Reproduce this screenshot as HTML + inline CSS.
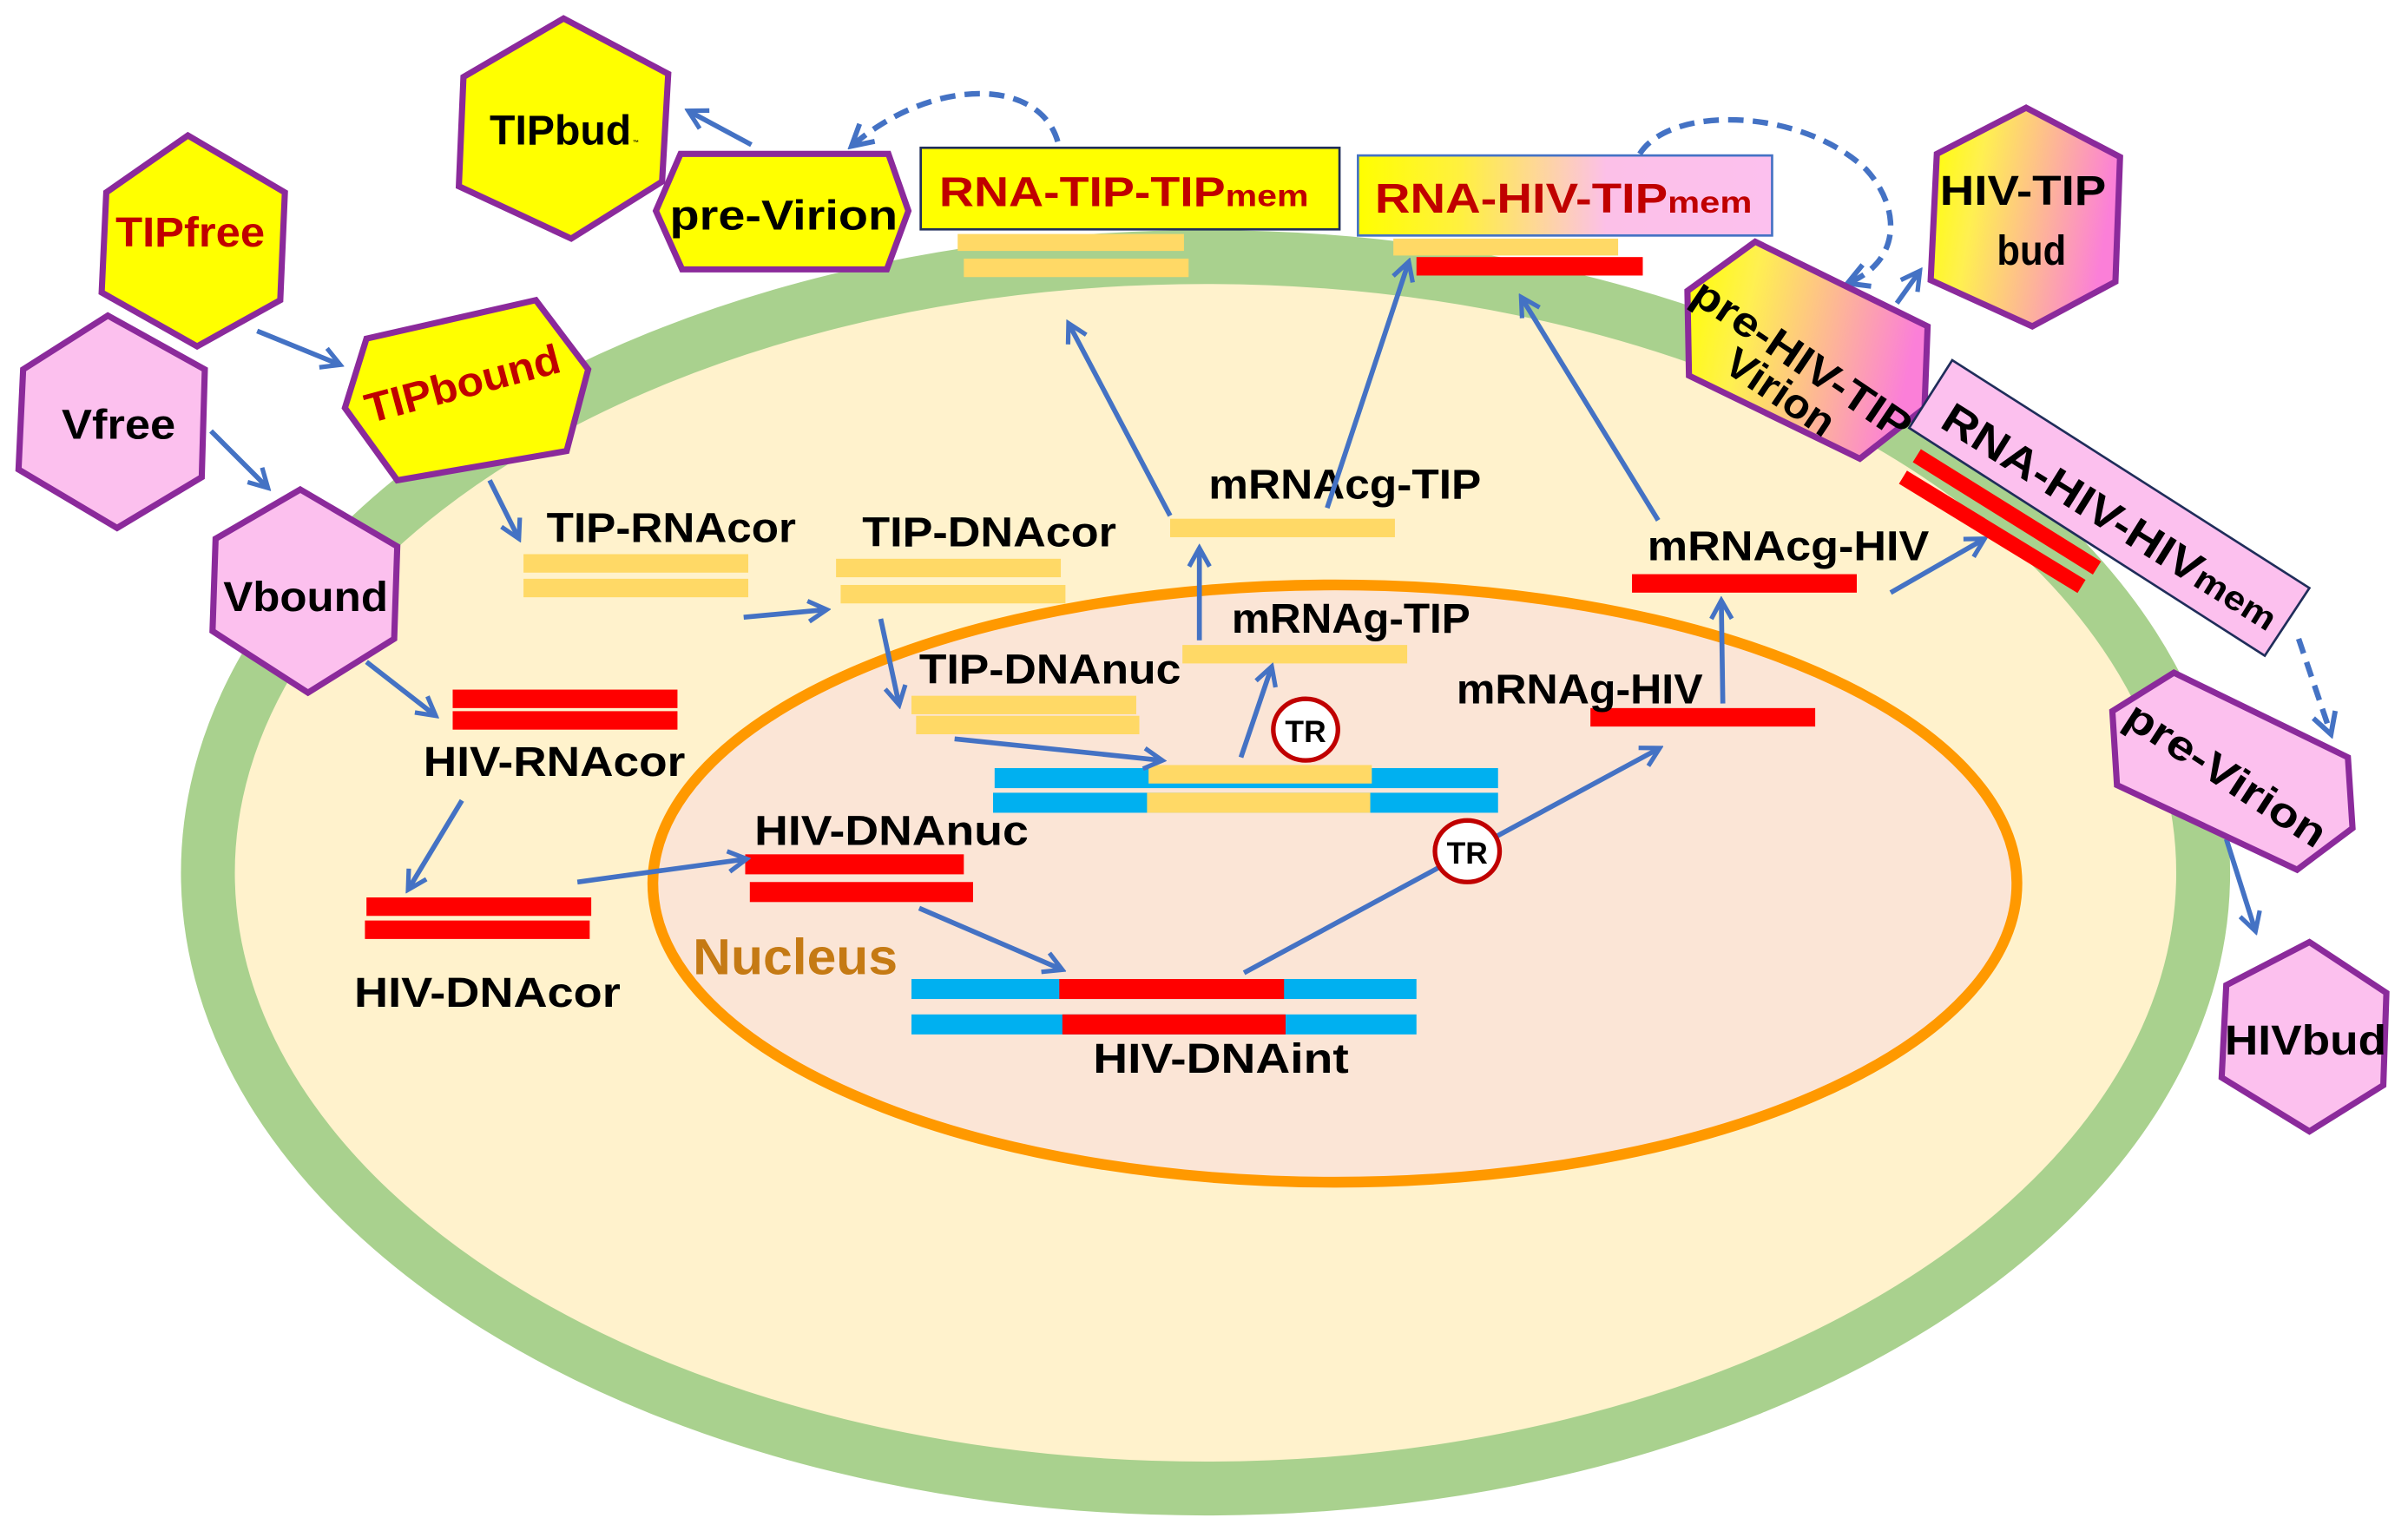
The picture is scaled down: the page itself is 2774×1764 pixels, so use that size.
<!DOCTYPE html>
<html><head><meta charset="utf-8"><style>
html,body{margin:0;padding:0;background:#fff;}
svg{display:block;}
text{font-family:"Liberation Sans",sans-serif;font-weight:bold;}
</style></head><body>
<svg width="2774" height="1764" viewBox="0 0 1564 994.6" xmlns="http://www.w3.org/2000/svg">
<defs>
<marker id="ah" viewBox="0 0 12 12" refX="10" refY="6" markerWidth="5" markerHeight="5" orient="auto" markerUnits="strokeWidth">
<path d="M1,1 L10,6 L1,11" fill="none" stroke="#4472C4" stroke-width="2.2"/>
</marker>
<linearGradient id="yp" x1="0" y1="0" x2="1" y2="0">
<stop offset="0" stop-color="#FFFF00"/><stop offset="0.25" stop-color="#FFF040"/><stop offset="0.6" stop-color="#FCC0E8"/><stop offset="1" stop-color="#FCC0EE"/></linearGradient>
<linearGradient id="yp2" x1="0" y1="0" x2="1" y2="0.2">
<stop offset="0" stop-color="#FFFF00"/><stop offset="0.3" stop-color="#FFF050"/><stop offset="1" stop-color="#FB7FD8"/></linearGradient>
</defs>
<rect width="1564" height="994.6" fill="#fff"/>
<ellipse cx="783" cy="567" rx="648" ry="400" fill="#FFF2CC" stroke="#A9D18E" stroke-width="35"/>
<ellipse cx="867" cy="574" rx="443" ry="194" fill="#FBE5D6" stroke="#FF9900" stroke-width="7"/>
<text x="450" y="633" font-size="33" fill="#C57A14" textLength="133" lengthAdjust="spacingAndGlyphs">Nucleus</text>

<g fill="#FFD966">
<rect x="622" y="152" width="147" height="11"/><rect x="626" y="168" width="146" height="12"/>
<rect x="905" y="155" width="146" height="11"/>
<rect x="340" y="360" width="146" height="12"/><rect x="340" y="376" width="146" height="12"/>
<rect x="543" y="363" width="146" height="12"/><rect x="546" y="380" width="146" height="12"/>
<rect x="592" y="452" width="146" height="12"/><rect x="595" y="465" width="145" height="12"/>
<rect x="760" y="337" width="146" height="12"/>
<rect x="768" y="419" width="146" height="12"/>
</g>
<g fill="#FF0000">
<rect x="920" y="167" width="147" height="12"/>
<rect x="1060" y="373" width="146" height="12"/>
<rect x="1033" y="460" width="146" height="12"/>
<rect x="294" y="448" width="146" height="12"/><rect x="294" y="462" width="146" height="12"/>
<rect x="238" y="583" width="146" height="12"/><rect x="237" y="598" width="146" height="12"/>
<rect x="484" y="555" width="142" height="13"/><rect x="487" y="573" width="145" height="13"/>
</g>
<g fill="#00B0F0">
<rect x="646" y="499" width="327" height="13"/><rect x="645" y="515" width="328" height="13"/>
<rect x="592" y="636" width="328" height="13"/><rect x="592" y="659" width="328" height="13"/>
</g>
<rect x="746" y="497" width="145" height="12" fill="#FFD966"/>
<rect x="745" y="515" width="145" height="13" fill="#FFD966"/>
<rect x="688" y="636" width="146" height="13" fill="#FF0000"/>
<rect x="690" y="659" width="145" height="13" fill="#FF0000"/>

<g font-size="27" fill="#000">
<text x="355" y="352" textLength="162" lengthAdjust="spacingAndGlyphs">TIP-RNAcor</text>
<text x="560" y="355" textLength="165" lengthAdjust="spacingAndGlyphs">TIP-DNAcor</text>
<text x="597" y="444" textLength="170" lengthAdjust="spacingAndGlyphs">TIP-DNAnuc</text>
<text x="785" y="324" textLength="177" lengthAdjust="spacingAndGlyphs">mRNAcg-TIP</text>
<text x="800" y="411" textLength="155" lengthAdjust="spacingAndGlyphs">mRNAg-TIP</text>
<text x="1070" y="364" textLength="183" lengthAdjust="spacingAndGlyphs">mRNAcg-HIV</text>
<text x="946" y="457" textLength="160" lengthAdjust="spacingAndGlyphs">mRNAg-HIV</text>
<text x="275" y="504" textLength="170" lengthAdjust="spacingAndGlyphs">HIV-RNAcor</text>
<text x="230" y="654" textLength="173" lengthAdjust="spacingAndGlyphs">HIV-DNAcor</text>
<text x="490" y="549" textLength="178" lengthAdjust="spacingAndGlyphs">HIV-DNAnuc</text>
<text x="710" y="697" textLength="166" lengthAdjust="spacingAndGlyphs">HIV-DNAint</text>
</g>

<g stroke="#4472C4" stroke-width="3.2" fill="none" marker-end="url(#ah)">
<line x1="167" y1="215" x2="221" y2="237"/>
<line x1="137" y1="280" x2="174" y2="317"/>
<line x1="318" y1="312" x2="337" y2="350"/>
<line x1="238" y1="430" x2="283" y2="465"/>
<line x1="483" y1="401" x2="537" y2="396"/>
<line x1="572" y1="402" x2="584" y2="458"/>
<line x1="300" y1="520" x2="265" y2="578"/>
<line x1="375" y1="573" x2="485" y2="558"/>
<line x1="620" y1="480" x2="755" y2="494"/>
<line x1="597" y1="590" x2="690" y2="630"/>
<line x1="808" y1="632" x2="1078" y2="486"/>
<line x1="806" y1="492" x2="826" y2="433"/>
<line x1="779" y1="416" x2="779" y2="356"/>
<line x1="760" y1="335" x2="694" y2="210"/>
<line x1="862" y1="330" x2="915" y2="170"/>
<line x1="1077" y1="338" x2="988" y2="193"/>
<line x1="1119" y1="457" x2="1118" y2="390"/>
<line x1="1228" y1="385" x2="1289" y2="350"/>
<line x1="488" y1="94" x2="447" y2="72"/>
<line x1="1232" y1="197" x2="1247" y2="176"/>
<line x1="1446" y1="545" x2="1465" y2="605"/>
<path d="M687,92 C675,50 605,50 553,95" stroke-dasharray="10,6" stroke-width="3.6"/>
<path d="M1065,100 C1085,68 1170,70 1212,110 C1235,135 1235,170 1200,184" stroke-dasharray="10,6" stroke-width="3.6"/>
<line x1="1493" y1="415" x2="1514" y2="477" stroke-dasharray="10,6" stroke-width="3.6"/>
</g>

<g stroke="#C00000" stroke-width="3" fill="#fff">
<ellipse cx="848" cy="474" rx="21" ry="20"/>
<ellipse cx="953" cy="553" rx="21" ry="20"/>
</g>
<g font-size="20" fill="#000" text-anchor="middle">
<text x="848" y="482">TR</text><text x="953" y="561">TR</text>
</g>

<g stroke="#8B2A9B" stroke-width="4" stroke-linejoin="miter">
<polygon points="366,12 434,48 430,118 371,155 298,121 301,50" fill="#FFFF00"/>
<polygon points="122,88 185,125 182,195 128,225 66,190 69,125" fill="#FFFF00"/>
<polygon points="70,205 133,240 131,310 76,343 12,305 15,240" fill="#FCC0EE"/>
<polygon points="238,220 348,195 382,240 368,293 258,312 224,265" fill="#FFFF00"/>
<polygon points="195,318 258,355 256,415 200,450 138,410 140,350" fill="#FCC0EE"/>
<polygon points="442,100 577,100 590,137 576,175 443,175 426,137" fill="#FFFF00"/>
<polygon points="1316,70 1377,102 1374,183 1320,212 1254,182 1258,100" fill="url(#yp2)"/>
<polygon points="1140,157 1252,212 1250,265 1208,298 1097,244 1096,189" fill="url(#yp2)"/>
<polygon points="1412,437 1525,492 1528,538 1492,565 1375,510 1372,462" fill="#FCC0EE"/>
<polygon points="1500,612 1550,645 1548,705 1500,735 1443,700 1446,640" fill="#FCC0EE"/>
</g>
<g font-size="27" fill="#000">
<text x="318" y="94" textLength="92" lengthAdjust="spacingAndGlyphs">TIPbud</text><text x="411" y="94" font-size="4">™</text>
<text x="75" y="160" fill="#C00000" textLength="97" lengthAdjust="spacingAndGlyphs">TIPfree</text>
<text x="40" y="285" textLength="74" lengthAdjust="spacingAndGlyphs">Vfree</text>
<text x="145" y="397" textLength="107" lengthAdjust="spacingAndGlyphs">Vbound</text>
<text x="435" y="149" textLength="148" lengthAdjust="spacingAndGlyphs">pre-Virion</text>
<text x="1260" y="133" textLength="108" lengthAdjust="spacingAndGlyphs">HIV-TIP</text>
<text x="1297" y="172" textLength="45" lengthAdjust="spacingAndGlyphs">bud</text>
<text x="1445" y="685" textLength="105" lengthAdjust="spacingAndGlyphs">HIVbud</text>
<text transform="translate(240,275) rotate(-15)" fill="#C00000" textLength="130" lengthAdjust="spacingAndGlyphs">TIPbound</text>
<text transform="translate(1097,195) rotate(34)" textLength="165" lengthAdjust="spacingAndGlyphs">pre-HIV-TIP</text>
<text transform="translate(1118,240) rotate(34)" textLength="80" lengthAdjust="spacingAndGlyphs">Virion</text>
<text transform="translate(1378,470) rotate(33)" textLength="150" lengthAdjust="spacingAndGlyphs">pre-Virion</text>
</g>

<rect x="598" y="96" width="272" height="53" fill="#FFFF00" stroke="#1F2D5A" stroke-width="1.5"/>
<text x="610" y="134" font-size="27" fill="#C00000" textLength="240" lengthAdjust="spacingAndGlyphs">RNA-TIP-TIP<tspan font-size="20">mem</tspan></text>
<rect x="882" y="101" width="269" height="52" fill="url(#yp)" stroke="#4472C4" stroke-width="1.5"/>
<text x="893" y="138" font-size="27" fill="#C00000" textLength="245" lengthAdjust="spacingAndGlyphs">RNA-HIV-TIP<tspan font-size="20">mem</tspan></text>
<polygon points="1268,234 1500,382 1471,426 1240,278" fill="#FCC0EE" stroke="#1F2D5A" stroke-width="1.5"/>
<text transform="translate(1259,277) rotate(32)" font-size="28" fill="#000" textLength="252" lengthAdjust="spacingAndGlyphs">RNA-HIV-HIV<tspan font-size="22">mem</tspan></text>
<line x1="1245" y1="296" x2="1362" y2="369" stroke="#FF0000" stroke-width="10"/>
<line x1="1236" y1="310" x2="1352" y2="381" stroke="#FF0000" stroke-width="10"/>
</svg>
</body></html>
